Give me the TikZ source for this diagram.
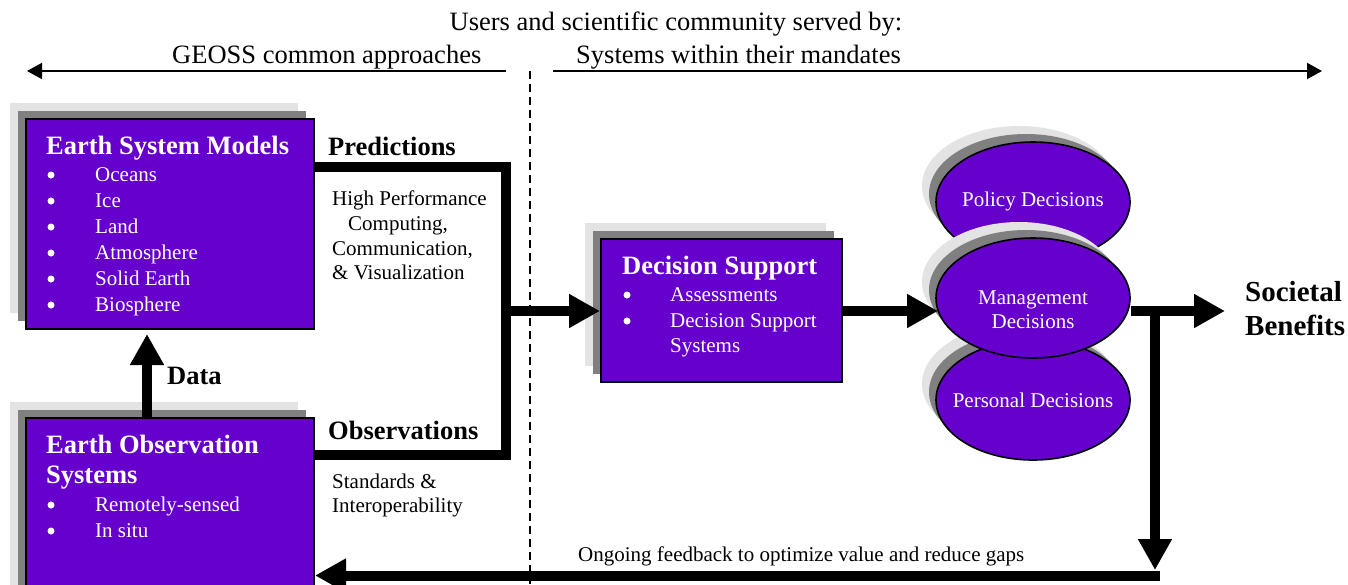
\documentclass[tikz,border=0pt]{standalone}
\usepackage{fontspec}
\setmainfont{Liberation Serif}
\usetikzlibrary{arrows.meta,shapes.geometric,shadows,calc}
\definecolor{boxpurple}{HTML}{6600CC}
\definecolor{shlight}{HTML}{E3E3E3}
\definecolor{shdark}{HTML}{808080}
\newcommand\bodysz{\fontsize{21}{25}\selectfont}
\newcommand\headsz{\fontsize{26.5}{30}\selectfont\bfseries}
\newcommand\topsz{\fontsize{26.5}{30}\selectfont}
\newcommand\sbsz{\fontsize{29}{34}\selectfont\bfseries}
\begin{document}
\begin{tikzpicture}[x=1pt,y=-1pt,
  shadowed/.style={general shadow={fill=shlight,shadow xshift=-16pt,shadow yshift=16pt},
                   general shadow={fill=shdark,shadow xshift=-8pt,shadow yshift=8pt}},
  eshadowed/.style={general shadow={fill=shlight,shadow xshift=-14pt,shadow yshift=16pt},
                   general shadow={fill=shdark,shadow xshift=-7pt,shadow yshift=8pt}},
  pbox/.style={shadowed, rectangle, draw=black, line width=2pt, fill=boxpurple, inner sep=0pt},
  pell/.style={eshadowed, ellipse, draw=black, line width=1.6pt, fill=boxpurple, inner sep=0pt,
               minimum width=194pt, minimum height=120pt},
  wt/.style={anchor=base west, inner sep=0pt, text=white, font=\bodysz},
  et/.style={anchor=base, inner sep=0pt, text=white, font=\bodysz},
  bt/.style={anchor=base west, inner sep=0pt, text=black, font=\bodysz},
  bul/.style={circle, fill=white, minimum size=7pt, inner sep=0pt},
  conn/.style={draw=black, line width=10pt, line join=miter},
  arr/.style={conn, -{Triangle[length=31pt,width=32pt]}},
  thinarr/.style={draw=black, line width=2pt, -{Triangle[length=15pt,width=16pt]}}
]
\useasboundingbox (0,0) rectangle (1348,584);
\clip (0,0) rectangle (1348,584);

% top texts
\node[anchor=base, inner sep=0pt, font=\topsz] (users) at (676,30) {Users and scientific community served by:};
\node[anchor=base west, inner sep=0pt, font=\topsz] (geoss) at (172,63) {GEOSS common approaches};
\node[anchor=base west, inner sep=0pt, font=\topsz] (systems) at (576,63) {Systems within their mandates};
\coordinate (la) at (506,71);
\coordinate (lb) at (27,71);
\coordinate (ra) at (553,71);
\coordinate (rb) at (1322,71);
\draw[thinarr] (la) -- (lb);
\draw[thinarr] (ra) -- (rb);
\coordinate (dt) at (530,71);
\coordinate (db) at (530,584);
\draw[line width=2pt, dash pattern=on 8pt off 5pt] (dt) -- (db);

% Earth System Models box
\node[pbox, minimum width=288pt, minimum height=210pt] (esm) at (170,224) {};
\node[wt, font=\headsz] (esmt) at (46,154) {Earth System Models};
\foreach \y/\t [count=\i] in {181/Oceans,207/Ice,233/Land,259/Atmosphere,285/Solid Earth,311/Biosphere}{
  \node[bul] (esmb\i) at (51,\y-6) {};
  \node[wt] (esmi\i) at (95,\y) {\t};
}

% Earth Observation Systems box
\node[pbox, minimum width=288pt, minimum height=200pt] (eos) at (170,518) {};
\node[wt, font=\headsz] (eost1) at (46,453) {Earth Observation};
\node[wt, font=\headsz] (eost2) at (46,483) {Systems};
\node[bul] (eosb1) at (51,505) {};
\node[wt] (eosi1) at (95,511) {Remotely-sensed};
\node[bul] (eosb2) at (51,531) {};
\node[wt] (eosi2) at (95,537) {In situ};

% Decision Support box
\node[pbox, minimum width=241pt, minimum height=143pt] (ds) at (721.5,310.5) {};
\node[wt, font=\headsz] (dst) at (622,274) {Decision Support};
\node[bul] (dsb1) at (627,295) {};
\node[wt] (dsi1) at (670,301) {Assessments};
\node[bul] (dsb2) at (627,321) {};
\node[wt] (dsi2) at (670,327) {Decision Support};
\node[wt] (dsi3) at (670,352) {Systems};

% decision ellipses
\node[pell] (pol) at (1033,202) {};
\node[et] (polt) at (1033,206) {Policy Decisions};
\node[pell] (per) at (1033,400) {};
\node[et] (pert) at (1033,407) {Personal Decisions};
\node[pell] (mgmt) at (1033,298) {};
\node[et] (mgmt1) at (1033,304) {Management};
\node[et] (mgmt2) at (1033,328) {Decisions};

% labels
\node[bt, font=\headsz] (pred) at (328,155) {Predictions};
\node[bt, font=\headsz] (obs) at (328,439) {Observations};
\node[bt] (hp1) at (332,205) {High Performance};
\node[bt] (hp2) at (348,230) {Computing,};
\node[bt] (hp3) at (332,255) {Communication,};
\node[bt] (hp4) at (332,279) {\& Visualization};
\node[bt] (st1) at (332,488) {Standards \&};
\node[bt] (st2) at (332,512) {Interoperability};
\node[bt, font=\headsz] (data) at (167,384) {Data};
\node[bt, font=\sbsz] (sb1) at (1245,301) {Societal};
\node[bt, font=\sbsz] (sb2) at (1245,335) {Benefits};
\node[bt] (fbl) at (578,561) {Ongoing feedback to optimize value and reduce gaps};

% connectors
\coordinate (pr) at (506,167);
\coordinate (ob) at (506,455);
\coordinate (jn) at (506,311);
\draw[conn] (esm.east |- pr) -- (pr) -- (ob) -- (eos.east |- ob);
\draw[arr] (jn) -- (jn -| ds.west);
\draw[arr] (ds.east |- jn) -- (938,311);
\coordinate (sbtip) at (1225,311);
\coordinate (fbtop) at (1155,311);
\coordinate (fbbot) at (1155,570);
\coordinate (fbr) at (1160,575.5);
\draw[arr] (mgmt.east |- sbtip) -- (sbtip);
\draw[arr] (fbtop) -- (fbbot);
\draw[arr] (fbr) -- (eos.east |- fbr);
\coordinate (dx) at (147,0);
\draw[arr] (eos.north -| dx) -- ($(esm.south -| dx)+(0,4)$);
\end{tikzpicture}
\end{document}
